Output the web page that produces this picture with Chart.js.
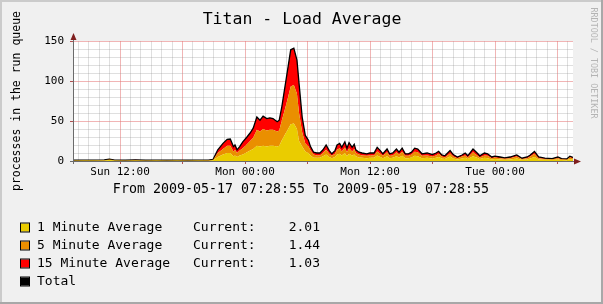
<!DOCTYPE html>
<html>
<head>
<meta charset="utf-8">
<script src="https://cdn.jsdelivr.net/npm/chart.js@4/dist/chart.umd.min.js"></script>
<style>
  html, body { margin: 0; padding: 0; background: #f0f0f0; }
  canvas { display: block; }
</style>
</head>
<body>
<canvas id="loadChart" width="603" height="304"></canvas>
<script>
// hours since 2009-05-17 07:28:55
const hours = [0.00, 1.00, 2.00, 3.00, 3.50, 4.00, 5.00, 6.00, 7.00, 8.00, 9.00, 10.00, 11.00, 12.00, 13.00, 13.45,
    13.90, 14.40, 14.80, 15.10, 15.40, 15.55, 15.75, 16.00, 16.30, 16.70, 17.00, 17.30, 17.65, 17.95, 18.25, 18.60,
    18.90, 19.20, 19.60, 19.80, 20.05, 20.35, 20.65, 20.90, 21.20, 21.50, 21.70, 22.00, 22.30, 22.60, 22.80, 23.10,
    23.40, 23.70, 24.00, 24.30, 24.60, 24.85, 25.15, 25.35, 25.60, 25.80, 26.10, 26.30, 26.50, 26.80, 27.00, 27.15,
    27.45, 27.75, 28.20, 28.50, 28.90, 29.20, 29.50, 29.75, 30.15, 30.40, 30.70, 31.05, 31.30, 31.60, 31.90, 32.20,
    32.50, 32.80, 33.10, 33.50, 34.00, 34.50, 34.85, 35.10, 35.40, 35.70, 36.20, 36.50, 36.90, 37.35, 37.65, 37.90,
    38.40, 38.80, 39.05, 39.50, 39.80, 40.20, 40.50, 41.00, 41.45, 41.95, 42.60, 43.10, 43.60, 43.90, 44.30, 44.70,
    45.30, 46.00, 46.55, 46.90, 47.40, 47.70, 48.00];

const load1 = [0.4, 0.5, 0.5, 0.6, 1.2, 0.5, 0.4, 0.6, 0.4, 0.5, 0.4, 0.5, 0.4, 0.5, 0.4, 1.0,
    5, 8, 10, 10, 6, 7, 5, 7, 8, 11, 13, 15, 19, 18, 19, 18,
    19, 19, 18, 19, 26, 33, 40, 46, 47, 40, 25, 18, 12, 10, 7, 4,
    4, 4, 6, 8, 5, 3.5, 5, 8, 9, 7, 10, 6, 9, 7, 8, 6,
    4.5, 4, 3.5, 4, 4, 7, 5, 3.5, 6, 3.5, 4, 6, 4.5, 6.5, 3.5, 3.5,
    4.5, 6.5, 6, 3.5, 4, 3, 4, 5, 3, 2.5, 5.5, 3, 2, 3, 4, 2.5,
    6, 4, 2.5, 4, 3.5, 2, 2.5, 2, 1.5, 2, 3, 1.5, 2, 3, 5, 2,
    1.5, 1.2, 2, 1.2, 1, 2.5, 2.01];

const load5 = [0.3, 0.3, 0.4, 0.4, 0.7, 0.4, 0.3, 0.5, 0.3, 0.3, 0.3, 0.4, 0.3, 0.3, 0.4, 0.6,
    5, 7, 9, 9, 6, 7, 5, 6, 8, 10, 12, 14, 20, 19, 21, 20,
    20, 20, 19, 19, 25, 32, 40, 47, 48, 44, 35, 18, 10, 8, 6, 4,
    3, 3, 4, 6, 4, 3, 4, 6, 7, 5, 7, 5, 7, 5, 7, 4,
    3.5, 3, 3, 3, 3, 5, 4, 3, 5, 3, 3, 5, 3.5, 5, 3, 3,
    3.5, 5, 5, 3, 3, 2.5, 3, 4, 2.5, 2, 4, 2.5, 1.5, 2.5, 3, 2,
    5, 3, 2, 3, 3, 1.5, 2, 1.5, 1.3, 1.5, 2.5, 1, 1.5, 2.5, 4, 1.5,
    1, 1, 1.5, 1, 0.8, 2, 1.44];

const load15 = [0.3, 0.3, 0.3, 0.3, 0.5, 0.3, 0.3, 0.4, 0.3, 0.3, 0.3, 0.3, 0.3, 0.3, 0.3, 0.4,
    4, 7, 8, 8.5, 6, 6, 4, 5, 8, 9, 10, 12, 16, 14, 16, 15,
    15, 14, 12, 13, 17, 28, 38, 46, 46, 42, 37, 19, 10, 8, 5, 3,
    3, 3, 4, 6, 4, 2.5, 4, 6, 6, 5, 7, 5, 7, 5, 6, 4,
    3, 3, 2.5, 3, 3, 5, 4, 2.5, 4, 2.5, 3, 4, 3, 4.5, 2.5, 2.5,
    3, 4.5, 4, 2.5, 3, 2.5, 3, 3, 2, 2, 3.5, 2.5, 1.5, 2, 3, 2,
    4, 3, 2, 3, 2.5, 1.5, 1.5, 1.5, 1.2, 1.5, 2, 1, 1.5, 2, 3, 1.5,
    1, 0.8, 1.5, 0.8, 0.7, 1.5, 1.03];

const startClock = 7 + 28 / 60 + 55 / 3600;
const xLabelClock = [12, 24, 36, 48];
const xLabels = ["Sun 12:00", "Mon 00:00", "Mon 12:00", "Tue 00:00"];
const yLabels = [0, 50, 100, 150];

const seriesNames = ["1 Minute Average", "5 Minute Average", "15 Minute Average"];
const currentValues = ["2.01", "1.44", "1.03"];

const MONO = '"DejaVu Sans Mono", monospace';

// hourly grid ticks, clock hours 08:00 .. 07:00 (+2 days)
const hourTicks = [];
for (let h = 8; h <= 55; h++) hourTicks.push(h - startClock);

function pts(values) {
    return hours.map((h, i) => ({ x: h, y: values[i] }));
}

function isMajorHour(v) {
    const clock = Math.round(v + startClock);
    return clock % 6 === 0;
}

const rrdFrame = {
    id: "rrdFrame",
    beforeDraw(chart) {
        const c = chart.ctx, a = chart.chartArea;
        c.save();
        c.fillStyle = "#f0f0f0";
        c.fillRect(0, 0, chart.width, chart.height);
        c.fillStyle = "#ffffff";
        c.fillRect(a.left, a.top, a.right - a.left, a.bottom - a.top);
        c.restore();
    },
    afterDraw(chart) {
        const c = chart.ctx, a = chart.chartArea;
        c.save();
        // axes
        c.strokeStyle = "#6b6b6b";
        c.lineWidth = 1;
        c.beginPath();
        c.moveTo(a.left + 0.5, a.bottom + 3);
        c.lineTo(a.left + 0.5, a.top - 5);
        c.moveTo(a.left - 3, a.bottom + 0.5);
        c.lineTo(a.right + 5, a.bottom + 0.5);
        c.stroke();
        // arrows
        c.fillStyle = "#7f1f1f";
        c.beginPath();
        c.moveTo(a.left + 0.5, a.top - 8);
        c.lineTo(a.left - 2.5, a.top - 1);
        c.lineTo(a.left + 3.5, a.top - 1);
        c.closePath();
        c.fill();
        c.beginPath();
        c.moveTo(a.right + 8, a.bottom + 0.5);
        c.lineTo(a.right + 1, a.bottom - 2.5);
        c.lineTo(a.right + 1, a.bottom + 3.5);
        c.closePath();
        c.fill();

        // title
        c.fillStyle = "#000";
        c.textAlign = "center";
        c.textBaseline = "middle";
        c.font = "16.5px " + MONO;
        c.fillText("Titan - Load Average", 302, 20);

        // period line
        c.font = "13.3px " + MONO;
        c.fillText("From 2009-05-17 07:28:55 To 2009-05-19 07:28:55", 301, 190);

        // vertical axis title
        c.save();
        c.translate(17, 101);
        c.rotate(-Math.PI / 2);
        c.font = "11.5px " + MONO;
        c.fillText("processes in the run queue", 0, 0);
        c.restore();

        // watermark
        c.save();
        c.translate(593, 63);
        c.rotate(Math.PI / 2);
        c.fillStyle = "#b4b4b4";
        c.font = "8.4px " + MONO;
        c.fillText("RRDTOOL / TOBI OETIKER", 0, 0);
        c.restore();

        // legend
        const colors = chart.data.datasets.map(d => d.backgroundColor);
        const rows = [227.5, 245.5, 263.5, 281.5];
        c.font = "13px " + MONO;
        c.textBaseline = "middle";
        for (let i = 0; i < 4; i++) {
            c.fillStyle = i < 3 ? colors[i] : "#000";
            c.fillRect(21, rows[i] - 4, 8, 8);
            c.strokeStyle = "#000";
            c.strokeRect(20.5, rows[i] - 4.5, 9, 9);
            c.fillStyle = "#000";
            c.textAlign = "left";
            c.fillText(i < 3 ? seriesNames[i] : "Total", 37, rows[i]);
            if (i < 3) {
                c.fillText("Current:", 193, rows[i]);
                c.textAlign = "right";
                c.fillText(currentValues[i], 320, rows[i]);
            }
        }

        // outer frame
        c.fillStyle = "#cbcbcb";
        c.fillRect(0, 0, chart.width, 2);
        c.fillRect(0, 0, 2, chart.height);
        c.fillStyle = "#a8a8a8";
        c.fillRect(chart.width - 2, 0, 2, chart.height);
        c.fillRect(0, chart.height - 2, chart.width, 2);
        c.restore();
    }
};

new Chart(document.getElementById("loadChart").getContext("2d"), {
    type: "line",
    data: {
        datasets: [
            {
                label: seriesNames[0],
                data: pts(load1),
                backgroundColor: "#eacc00",
                borderWidth: 0,
                fill: "origin",
            },
            {
                label: seriesNames[1],
                data: pts(load5),
                backgroundColor: "#ea8f00",
                borderWidth: 0,
                fill: "-1",
            },
            {
                label: seriesNames[2],
                data: pts(load15),
                backgroundColor: "#ff0000",
                borderColor: "#000000",
                borderWidth: 1.3,
                fill: "-1",
            },
        ],
    },
    options: {
        responsive: false,
        animation: false,
        devicePixelRatio: 1,
        layout: { padding: { left: 0, top: 41, right: 30, bottom: 123 } },
        elements: { point: { radius: 0 }, line: { tension: 0 } },
        plugins: { legend: { display: false }, tooltip: { enabled: false } },
        scales: {
            x: {
                type: "linear",
                min: 0,
                max: 48,
                afterFit(scale) { scale.height = 20; },
                afterBuildTicks(scale) { scale.ticks = hourTicks.map(v => ({ value: v })); },
                border: { display: false },
                grid: {
                    color: ctx => isMajorHour(ctx.tick.value) ? "rgba(230,120,120,0.55)" : "rgba(150,150,150,0.3)",
                    tickColor: ctx => isMajorHour(ctx.tick.value) ? "#b05050" : "rgba(0,0,0,0)",
                    tickLength: 3,
                },
                ticks: {
                    autoSkip: false,
                    maxRotation: 0,
                    padding: 2,
                    color: "#000",
                    font: { family: MONO, size: 11 },
                    callback(value) {
                        const k = xLabelClock.indexOf(Math.round(value + startClock));
                        return k >= 0 ? xLabels[k] : "";
                    },
                },
            },
            y: {
                stacked: true,
                min: 0,
                max: 150,
                afterFit(scale) { scale.width = 73; },
                border: { display: false },
                grid: {
                    color: ctx => ctx.tick.value % 50 === 0 ? "rgba(230,120,120,0.55)" : "rgba(150,150,150,0.3)",
                    tickColor: ctx => ctx.tick.value % 50 === 0 ? "#b05050" : "rgba(0,0,0,0)",
                    tickLength: 3,
                },
                ticks: {
                    stepSize: 10,
                    autoSkip: false,
                    padding: 6,
                    color: "#000",
                    font: { family: MONO, size: 11 },
                    callback(value) { return yLabels.includes(value) ? String(value) : ""; },
                },
            },
        },
    },
    plugins: [rrdFrame],
});
</script>
</body>
</html>
